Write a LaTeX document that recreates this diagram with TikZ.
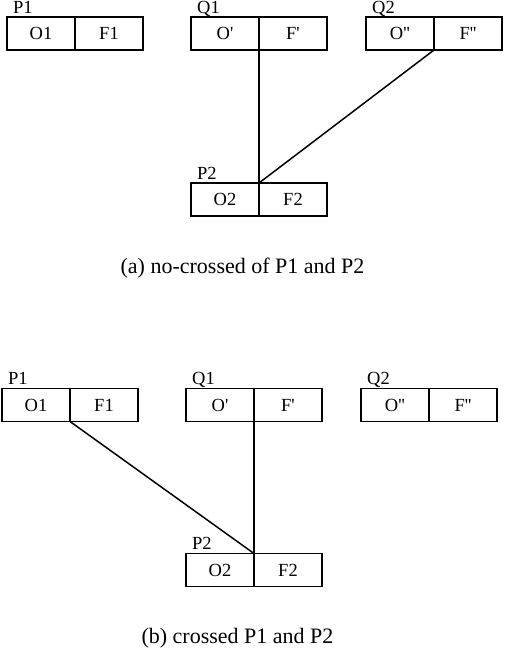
\documentclass[tikz,border=0pt]{standalone}
\usepackage{fontspec}
\setmainfont{Liberation Serif}
\usetikzlibrary{positioning}

\begin{document}
\begin{tikzpicture}[x=1pt,y=-1pt,
    cell/.style={draw,line width=1.8pt,minimum width=68pt,minimum height=33pt,
        inner sep=0pt,outer sep=0pt,font=\fontsize{18.5}{22}\selectfont},
    tag/.style={anchor=base west,inner sep=0pt,font=\fontsize{18.5}{22}\selectfont},
    link/.style={line width=1.5pt},
    caption/.style={anchor=base,inner sep=0pt,font=\fontsize{22}{26}\selectfont}]
\useasboundingbox (0,0) rectangle (504,648);
\foreach \id/\x/\y/\tl/\lo/\lf in {a1/41/33.5/P1/O1/F1,
    a2/225/33.5/Q1/O\textquotesingle/F\textquotesingle,
    a3/400/33.5/Q2/O\textquotesingle\textquotesingle/F\textquotesingle\textquotesingle,
    a4/225/199.5/P2/O2/F2,
    b1/36/405/P1/O1/F1,
    b2/220/405/Q1/O\textquotesingle/F\textquotesingle,
    b3/395/405/Q2/O\textquotesingle\textquotesingle/F\textquotesingle\textquotesingle,
    b4/220/570/P2/O2/F2}{
    \node[cell] (o\id) at (\x,\y) {\lo};
    \node[cell,right=0pt of o\id] (f\id) {\lf};
    \node[tag] (t\id) at ([shift={(6pt,4pt)}]o\id.north west) {\tl};
}
% (a) no crossing
\draw[link] (oa2.south east) -- (oa4.north east);
\draw[link] (oa3.south east) -- (oa4.north east);
\node[caption] (capa) at (242.5,273) {(a) no-crossed of P1 and P2};
% (b) crossing
\draw[link] (ob1.south east) -- (ob4.north east);
\draw[link] (ob2.south east) -- (ob4.north east);
\node[caption] (capb) at (237.5,643) {(b) crossed P1 and P2};
\end{tikzpicture}
\end{document}
